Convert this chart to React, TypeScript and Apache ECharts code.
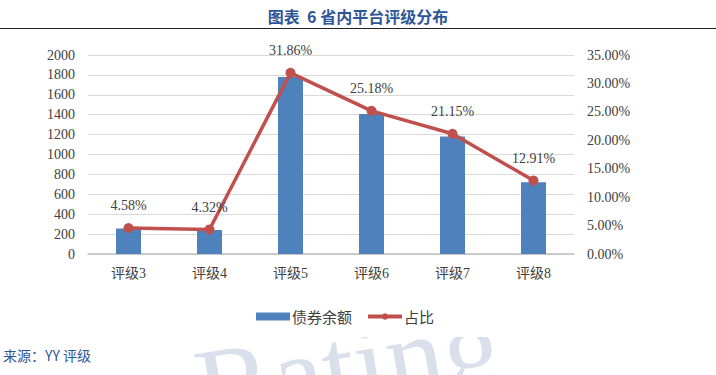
import React, { useEffect, useRef } from "react";
import * as echarts from "echarts";

const categories = ["评级3", "评级4", "评级5", "评级6", "评级7", "评级8"];
const bondBalance = [256, 241, 1780, 1407, 1182, 721];
const shares = [4.58, 4.32, 31.86, 25.18, 21.15, 12.91];
const titleText = "图表  6 省内平台评级分布";
const sourceText = "来源：YY 评级";
const seriesNames = ["债券余额", "占比"];

const SERIF = "'Liberation Serif', 'Times New Roman', 'Noto Sans CJK SC', serif";
const SANS = "'Noto Sans CJK SC', 'Noto Sans', sans-serif";

export default function App() {
  const ref = useRef<HTMLDivElement>(null);
  useEffect(() => {
    if (!ref.current) return;
    const chart = echarts.init(ref.current, undefined, { renderer: "svg" });
    chart.setOption({
      animation: false,
      backgroundColor: "#ffffff",
      title: {
        text: titleText,
        left: "center",
        top: 3,
        textStyle: { fontFamily: SANS, fontSize: 16, fontWeight: "bold", color: "#2E5597" },
      },
      graphic: [
        { type: "line", shape: { x1: 0, y1: 28.5, x2: 716, y2: 28.5 }, style: { stroke: "#222", lineWidth: 1.2 } },
        {
          type: "text",
          x: 206,
          y: 448,
          rotation: 0.16,
          z: -1,
          silent: true,
          style: { text: "Rating", font: `115px ${SERIF}`, fill: "#d9dfeb", textVerticalAlign: "bottom" },
        },
        {
          type: "rect",
          z: -1,
          silent: true,
          shape: { x: 0, y: 300, width: 716, height: 37 },
          style: { fill: "#ffffff" },
        },
        {
          type: "text",
          left: 3,
          top: 348,
          style: { text: sourceText, font: `14px ${SANS}`, fill: "#2E5597" },
        },
      ],
      legend: {
        bottom: 46,
        left: 251,
        itemGap: 14,
        itemWidth: 34,
        itemHeight: 8,
        textStyle: { fontFamily: SANS, fontSize: 15, color: "#404040", padding: [0, 0, 0, -3] },
        data: [
          { name: seriesNames[0], icon: "rect" },
          { name: seriesNames[1], lineStyle: { width: 4 } },
        ],
      },
      grid: { left: 88, right: 142, top: 55, bottom: 121, containLabel: false },
      xAxis: {
        type: "category",
        data: categories,
        axisTick: { show: false },
        axisLine: { lineStyle: { color: "#bfbfbf", width: 1.5 } },
        axisLabel: { fontFamily: SERIF, fontSize: 14, color: "#404040", margin: 12 },
      },
      yAxis: [
        {
          type: "value",
          min: 0,
          max: 2000,
          interval: 200,
          axisLine: { show: false },
          axisTick: { show: false },
          splitLine: { lineStyle: { color: "#d9d9d9" } },
          axisLabel: {
            fontFamily: SERIF,
            fontSize: 14,
            color: "#404040",
            margin: 13,
            formatter: (v: number) => String(v),
          },
        },
        {
          type: "value",
          min: 0,
          max: 35,
          interval: 5,
          axisLine: { show: false },
          axisTick: { show: false },
          splitLine: { show: false },
          axisLabel: {
            fontFamily: SERIF,
            fontSize: 14,
            color: "#404040",
            margin: 13,
            formatter: (v: number) => v.toFixed(2) + "%",
          },
        },
      ],
      series: [
        {
          name: seriesNames[0],
          type: "bar",
          data: bondBalance,
          barWidth: 25,
          itemStyle: { color: "#4F81BD" },
        },
        {
          name: seriesNames[1],
          type: "line",
          yAxisIndex: 1,
          data: shares,
          symbol: "circle",
          symbolSize: 10,
          lineStyle: { color: "#C0504D", width: 3.5 },
          itemStyle: { color: "#C0504D" },
          label: {
            show: true,
            position: "top",
            distance: 10,
            fontFamily: SERIF,
            fontSize: 14,
            color: "#404040",
            formatter: (p: any) => p.value.toFixed(2) + "%",
          },
        },
      ],
    });
    return () => chart.dispose();
  }, []);
  return <div ref={ref} style={{ position: "absolute", left: 0, top: 0, width: 716, height: 375 }} />;
}
